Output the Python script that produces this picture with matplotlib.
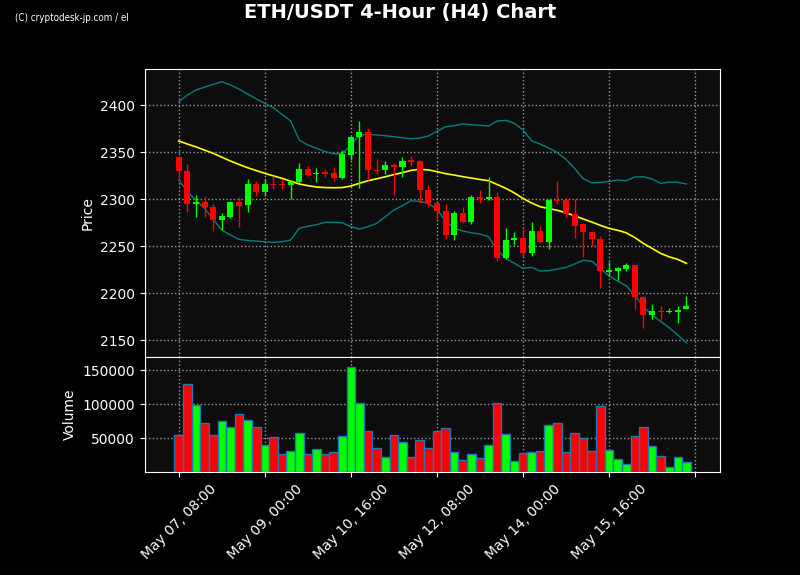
import numpy as np
import matplotlib
matplotlib.use('Agg')
import matplotlib.pyplot as plt

# OHLC for the 60 four-hour candles
opens = [2345, 2330, 2294.3, 2296.5, 2291.8, 2278, 2281.2, 2296.5, 2293.3, 2316.3,
         2307.1, 2316.3, 2316, 2314.5, 2317.7, 2332.3, 2326.2, 2328.4, 2327.7, 2322,
         2347.2, 2365.6, 2371.3, 2331.2, 2330.5, 2336.5, 2333.7, 2341.1, 2340.8, 2309.6,
         2296.1, 2287.6, 2261.3, 2285.5, 2275.2, 2302.5, 2300.4, 2302.5, 2236.9, 2256,
         2258.8, 2242.2, 2266.3, 2253.9, 2299.3, 2299.3, 2284.4, 2273.8, 2264.9, 2257.8,
         2222.7, 2223, 2225.2, 2229.4, 2196, 2176.2, 2181.2, 2179.4, 2180.1, 2183]
highs = [2346, 2337, 2304.6, 2302.8, 2294.7, 2285.1, 2298.2, 2302.1, 2321.3, 2318.8,
         2321.3, 2324.8, 2320.6, 2320.6, 2338.3, 2334.8, 2333, 2331.6, 2334.4, 2351.8,
         2366.7, 2382.6, 2375.5, 2342.6, 2340, 2338.3, 2344.7, 2345.7, 2341.5, 2314.9,
         2296.8, 2294.7, 2287.6, 2291.1, 2304.3, 2309.2, 2323.4, 2307.1, 2269.1, 2264.9,
         2269.1, 2275.5, 2271.3, 2299.5, 2319.1, 2301.4, 2299.9, 2273.8, 2265, 2260.3,
         2233, 2227.3, 2231.9, 2230.1, 2196.6, 2188.3, 2186.6, 2183.9, 2186.6, 2196.8]
lows = [2319.5, 2286, 2280.5, 2280.5, 2265.6, 2266.7, 2279.8, 2270.2, 2286.2, 2303.5,
        2303.5, 2310.6, 2310.6, 2300, 2317, 2324.1, 2318.1, 2323, 2319.1, 2321.3,
        2341.1, 2311.7, 2320.6, 2326.6, 2326.6, 2304.6, 2323.4, 2334.8, 2295.7, 2291.5,
        2278.7, 2257.4, 2256.4, 2274, 2273.4, 2295.7, 2299.3, 2234, 2236.2, 2251,
        2239, 2239, 2253, 2246.8, 2294.7, 2281.2, 2258.8, 2238.3, 2250, 2205.3,
        2217.8, 2214, 2223.4, 2183, 2162.9, 2172.3, 2171.6, 2178.7, 2168.2, 2183]
closes = [2329.4, 2294.7, 2296.5, 2291.1, 2278, 2282.3, 2296.5, 2292.9, 2316.3, 2307.1,
          2316.3, 2314.5, 2314.5, 2318.1, 2332.3, 2325.9, 2328, 2327, 2322, 2348.2,
          2366.3, 2371.3, 2330.5, 2330.1, 2336.5, 2333.7, 2340.8, 2339.7, 2309.2, 2295.4,
          2286.9, 2261.3, 2285.5, 2275.2, 2302.5, 2300.4, 2302.5, 2236.9, 2256.7, 2258.8,
          2242.6, 2266.3, 2253.9, 2299.3, 2297.9, 2284.4, 2271.6, 2264.5, 2257.1, 2223,
          2224.1, 2226.2, 2229.4, 2195.9, 2176.2, 2181.2, 2179.4, 2181.2, 2182.3, 2186.6]
volumes = [54300, 129700, 99300, 71700, 54300, 74600, 65900, 84800, 76100, 65900,
           39900, 51400, 26800, 31200, 57200, 26800, 34100, 26800, 29700, 52900,
           154300, 102200, 60100, 35500, 22500, 54300, 44200, 22500, 47100, 35500,
           60100, 64500, 29700, 18100, 26800, 21000, 39900, 102200, 55800, 16700,
           28300, 29700, 31200, 68800, 71700, 29700, 57200, 50000, 31200, 97800,
           32600, 19600, 12300, 52900, 65900, 38400, 23900, 8000, 22500, 15200]

# moving average and bollinger bands
ma = [2361.7, 2358.5, 2355.5, 2352, 2348.6, 2344.5, 2340.4, 2336.8, 2333.3, 2330.3,
      2327.3, 2324.6, 2322, 2319, 2316, 2314.2, 2312.8, 2312.2, 2312, 2312.2,
      2313.8, 2316.8, 2319.5, 2321.5, 2323.7, 2326, 2328, 2330.5, 2331.6, 2331,
      2329.1, 2327, 2325.5, 2323.8, 2322.3, 2320.8, 2319.5, 2315.5, 2311.4, 2306.5,
      2300.7, 2295.8, 2291.8, 2289.8, 2288, 2285.3, 2282.2, 2278.8, 2275.5, 2272,
      2268.8, 2266.8, 2264.1, 2259, 2252.8, 2247.5, 2242.2, 2238.5, 2235.8, 2231.6]
upper = [2403.5, 2410.5, 2416, 2419, 2422, 2424.8, 2421.3, 2417, 2411.7, 2406.5,
         2401.8, 2397, 2390, 2383, 2362.8, 2357.5, 2353.9, 2350.5, 2348.2, 2348.2,
         2357.4, 2368, 2368.8, 2368.2, 2367.3, 2366.3, 2365.2, 2364.1, 2364.9, 2367,
         2372, 2376.9, 2378, 2379.8, 2379.1, 2378.4, 2377.7, 2383, 2383.7, 2380.5,
         2373.4, 2362, 2358.5, 2354.3, 2349.3, 2342.2, 2332.6, 2321.6, 2317.3, 2317.7,
         2318.8, 2320.2, 2319.5, 2323.4, 2323.7, 2321.3, 2316.7, 2318.1, 2317.7, 2316]
lower = [2320.2, 2307.8, 2298.9, 2290, 2278.3, 2267, 2261.7, 2257.1, 2256, 2255.2,
         2254.6, 2253.9, 2254.6, 2256.4, 2268.8, 2271, 2272.7, 2275.2, 2275.2, 2274.8,
         2270.6, 2268.1, 2270.6, 2274.1, 2281.2, 2288.3, 2292.9, 2298.2, 2297.5, 2295.4,
         2289, 2276.6, 2268.8, 2266, 2264.1, 2262.8, 2259.9, 2245.7, 2236.9, 2231.6,
         2226.3, 2227.3, 2223.4, 2223.8, 2225.5, 2227.3, 2230.9, 2234.8, 2233.8, 2226.3,
         2218.1, 2212.8, 2207.8, 2197.9, 2185.5, 2176.6, 2169.9, 2163.1, 2155.3, 2147.1]

tick_labels = ['May 07, 08:00', 'May 09, 00:00', 'May 10, 16:00', 'May 12, 08:00',
               'May 14, 00:00', 'May 15, 16:00', '']

UP = '#00ff00'
DOWN = '#ff0000'
BG = '#0d0d0d'

fig = plt.figure(figsize=(8, 5.75), dpi=100, facecolor='black')
ax = fig.add_axes([0.181, 0.379, 0.719, 0.501])
axv = fig.add_axes([0.181, 0.179, 0.719, 0.2], sharex=ax)

x = np.arange(len(opens))
colors = [UP if c >= o else DOWN for o, c in zip(opens, closes)]

# candles
ax.vlines(x, lows, highs, colors=colors, linewidth=1, zorder=3)
bottoms = [min(o, c) for o, c in zip(opens, closes)]
heights = [max(abs(c - o), 0.8) for o, c in zip(opens, closes)]
ax.bar(x, heights, bottom=bottoms, width=0.7, color=colors, zorder=4)

ax.plot(x, upper, color='#008080', linewidth=1, zorder=2)
ax.plot(x, lower, color='#008080', linewidth=1, zorder=2)
ax.plot(x, ma, color='#ffff00', linewidth=1.2, zorder=2)

# volume
axv.bar(x, volumes, width=1.0, color=colors, edgecolor='#1f77b4', linewidth=1, zorder=3)

for a in (ax, axv):
    a.set_facecolor(BG)
    a.grid(True, color='#999999', linestyle=':', linewidth=1)
    a.set_axisbelow(True)
    for s in a.spines.values():
        s.set_color('white')
    a.tick_params(colors='white', labelsize=10)

ax.set_xlim(-3.95, 62.9)
ax.set_ylim(2131.9, 2438.3)
ax.set_yticks([2150, 2200, 2250, 2300, 2350, 2400])
ax.set_ylabel('Price', color='white', fontsize=10)
ax.tick_params(axis='x', labelbottom=False)

axv.set_ylim(0, 169000)
axv.set_yticks([50000, 100000, 150000])
axv.set_yticklabels(['50000', '100000', '150000'])
axv.set_ylabel('Volume', color='white', fontsize=10)
axv.set_xticks(np.arange(0, 61, 10))
axv.set_xticklabels(tick_labels, rotation=45, ha='center')

fig.suptitle('ETH/USDT 4-Hour (H4) Chart', color='white', fontsize=14,
             fontweight='bold', y=0.995)
fig.text(0.019, 0.963, '(C) cryptodesk-jp.com / el', color='white', fontsize=7,
         family=['Liberation Sans Narrow', 'DejaVu Sans'], fontstretch='condensed')

fig.savefig('out.png', facecolor='black')
